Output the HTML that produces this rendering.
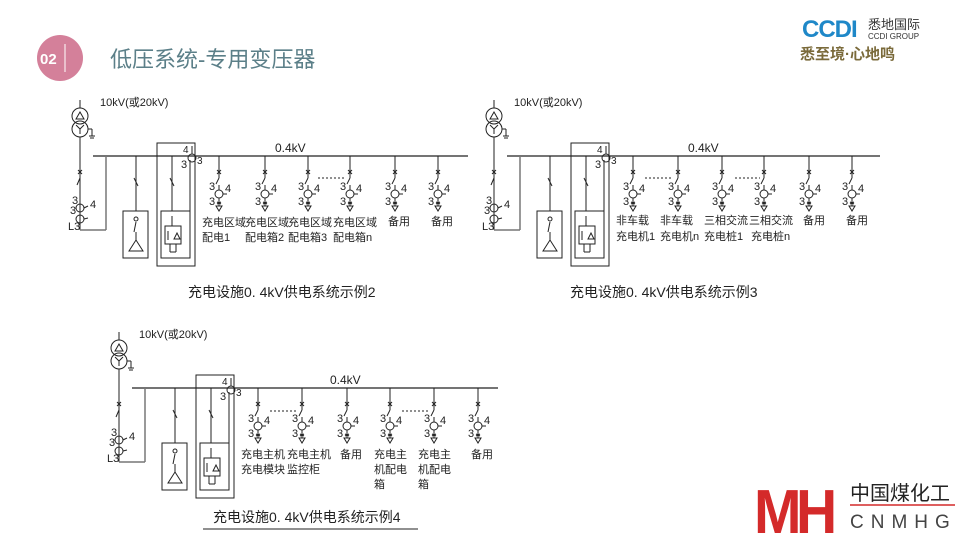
<!DOCTYPE html>
<html><head><meta charset="utf-8"><style>
html,body{margin:0;padding:0;background:#fff;}
body{width:960px;height:540px;overflow:hidden;position:relative;font-family:"Liberation Sans","Noto Sans CJK SC",sans-serif;}
svg text{font-family:"Liberation Sans","Noto Sans CJK SC",sans-serif;}
</style></head><body>
<svg width="960" height="540" viewBox="0 0 960 540" xmlns="http://www.w3.org/2000/svg">
<defs>
<g id="fd" stroke="#222" stroke-width="1" fill="none">
<line x1="0" y1="0" x2="0" y2="22"/>
<line x1="-2" y1="14" x2="2" y2="18"/><line x1="2" y1="14" x2="-2" y2="18"/>
<line x1="0" y1="22" x2="-3" y2="28"/>
<line x1="0" y1="29" x2="0" y2="34"/>
<circle cx="0" cy="38" r="4"/>
<line x1="0" y1="42" x2="0" y2="50"/>
<line x1="4" y1="38" x2="8" y2="38"/>
<line x1="-2" y1="46" x2="2" y2="48"/><line x1="2" y1="46" x2="-2" y2="48"/>
<polygon points="-3,50 3,50 0,55"/>
<text x="-10" y="34" font-size="11" fill="#222" stroke="none">3</text>
<text x="-10" y="49" font-size="11" fill="#222" stroke="none">3</text>
<text x="6" y="36" font-size="11" fill="#222" stroke="none">4</text>
</g>
<g id="lp" stroke="#222" stroke-width="1" fill="none">
<line x1="0" y1="-56" x2="0" y2="-48"/>
<circle cx="0" cy="-40" r="8"/><circle cx="0" cy="-27" r="8"/>
<polygon points="-4,-37 4,-37 0,-44"/>
<line x1="0" y1="-27" x2="0" y2="-22"/><line x1="0" y1="-27" x2="-4" y2="-31"/><line x1="0" y1="-27" x2="4" y2="-31"/>
<line x1="8" y1="-27" x2="12" y2="-27"/><line x1="12" y1="-27" x2="12" y2="-20"/><line x1="9" y1="-20" x2="15" y2="-20"/><line x1="10" y1="-18" x2="14" y2="-18"/>
<line x1="0" y1="-19" x2="0" y2="74"/>
<line x1="-2" y1="14" x2="2" y2="18"/><line x1="2" y1="14" x2="-2" y2="18"/>
<line x1="0" y1="22" x2="-3" y2="29"/>
<circle cx="0" cy="52" r="4"/><circle cx="0" cy="63" r="4"/>
<line x1="4" y1="52" x2="8" y2="50"/><line x1="4" y1="63" x2="8" y2="62"/>
<text x="-8" y="48" font-size="11" fill="#222" stroke="none">3</text>
<text x="-10" y="58" font-size="11" fill="#222" stroke="none">3</text>
<text x="10" y="52" font-size="11" fill="#222" stroke="none">4</text>
<text x="-12" y="74" font-size="11" fill="#222" stroke="none">L3</text>
<line x1="0" y1="74" x2="26" y2="74" stroke="#777" stroke-width="1.5"/>
<line x1="26" y1="74" x2="26" y2="0" stroke="#777" stroke-width="1.5"/>
<text x="20" y="-50" font-size="11" fill="#222" stroke="none">10kV(或20kV)</text>
<line x1="56" y1="0" x2="56" y2="55"/>
<line x1="54" y1="22" x2="58" y2="30"/>
<rect x="43" y="55" width="25" height="47"/>
<circle cx="56" cy="63" r="2"/><line x1="56" y1="66" x2="54" y2="76"/><line x1="56" y1="76" x2="56" y2="84"/>
<polygon points="49,95 63,95 56,84"/>
<rect x="77" y="-13" width="38" height="123"/>
<rect x="81" y="55" width="29" height="47"/>
<line x1="92" y1="0" x2="92" y2="55"/>
<line x1="90" y1="22" x2="94" y2="30"/>
<line x1="92" y1="60" x2="92" y2="70"/>
<rect x="85" y="70" width="16" height="18"/>
<polygon points="94,83 100,83 97,77"/>
<line x1="88" y1="75" x2="88" y2="84"/>
<line x1="90" y1="88" x2="90" y2="96"/><line x1="96" y1="88" x2="96" y2="96"/><line x1="90" y1="96" x2="96" y2="96"/>
<line x1="110" y1="77" x2="110" y2="4"/>
<circle cx="112" cy="2" r="4"/>
<line x1="112" y1="-2" x2="112" y2="-10"/>
<text x="103" y="-3" font-size="10" fill="#222" stroke="none">4</text>
<text x="101" y="12" font-size="11" fill="#222" stroke="none">3</text>
<text x="117" y="8" font-size="10" fill="#222" stroke="none">3</text>
</g>
</defs>

<circle cx="60" cy="58" r="23" fill="#d4809a"/>
<text x="40" y="64" font-size="15" fill="#fff" font-weight="bold">02</text>
<line x1="65" y1="44" x2="65" y2="72" stroke="#fff" stroke-width="1"/>
<text x="110" y="67" font-size="22" fill="#5b7f88">低压系统-专用变压器</text>
<text x="802" y="37" font-size="24" fill="#1f88c8" font-weight="bold" letter-spacing="-1">CCDI</text>
<text x="868" y="29" font-size="13" fill="#333">悉地国际</text>
<text x="868" y="39" font-size="8" fill="#333">CCDI GROUP</text>
<text x="800" y="59" font-size="15" fill="#7a6a3a" font-weight="bold">悉至境·心地鸣</text>
<text x="754" y="533" font-size="62" fill="#d42a2a" font-weight="bold" letter-spacing="-6" transform="translate(754,0) scale(0.92,1) translate(-754,0)">MH</text>
<text x="850" y="500" font-size="20" fill="#222">中国煤化工</text>
<line x1="850" y1="505" x2="955" y2="505" stroke="#d42a2a" stroke-width="1.5"/>
<text x="850" y="528" font-size="19" fill="#444" letter-spacing="7">CNMHG</text>

<line x1="93" y1="156" x2="468" y2="156" stroke="#222" stroke-width="1.2"/>
<text x="275" y="152" font-size="12" fill="#222">0.4kV</text>
<use href="#lp" x="80" y="156"/>
<use href="#fd" x="219" y="156"/><use href="#fd" x="265" y="156"/><use href="#fd" x="308" y="156"/>
<use href="#fd" x="350" y="156"/><use href="#fd" x="395" y="156"/><use href="#fd" x="438" y="156"/>
<line x1="318" y1="178" x2="345" y2="178" stroke="#222" stroke-dasharray="2,2"/>
<g font-size="11" fill="#222">
<text x="202" y="226">充电区域</text><text x="202" y="241">配电1</text>
<text x="245" y="226">充电区域</text><text x="245" y="241">配电箱2</text>
<text x="288" y="226">充电区域</text><text x="288" y="241">配电箱3</text>
<text x="333" y="226">充电区域</text><text x="333" y="241">配电箱n</text>
<text x="388" y="225">备用</text><text x="431" y="225">备用</text>
</g>
<text x="188" y="297" font-size="14" fill="#222">充电设施0. 4kV供电系统示例2</text>

<line x1="507" y1="156" x2="880" y2="156" stroke="#222" stroke-width="1.2"/>
<text x="688" y="152" font-size="12" fill="#222">0.4kV</text>
<use href="#lp" x="494" y="156"/>
<use href="#fd" x="633" y="156"/><use href="#fd" x="678" y="156"/><use href="#fd" x="722" y="156"/>
<use href="#fd" x="764" y="156"/><use href="#fd" x="809" y="156"/><use href="#fd" x="852" y="156"/>
<line x1="645" y1="178" x2="673" y2="178" stroke="#222" stroke-dasharray="2,2"/>
<line x1="735" y1="178" x2="760" y2="178" stroke="#222" stroke-dasharray="2,2"/>
<g font-size="11" fill="#222">
<text x="616" y="224">非车载</text><text x="616" y="240">充电机1</text>
<text x="660" y="224">非车载</text><text x="660" y="240">充电机n</text>
<text x="704" y="224">三相交流</text><text x="704" y="240">充电桩1</text>
<text x="749" y="224">三相交流</text><text x="751" y="240">充电桩n</text>
<text x="803" y="224">备用</text><text x="846" y="224">备用</text>
</g>
<text x="570" y="297" font-size="14" fill="#222">充电设施0. 4kV供电系统示例3</text>

<line x1="132" y1="388" x2="498" y2="388" stroke="#222" stroke-width="1.2"/>
<text x="330" y="384" font-size="12" fill="#222">0.4kV</text>
<use href="#lp" x="119" y="388"/>
<use href="#fd" x="258" y="388"/><use href="#fd" x="302" y="388"/><use href="#fd" x="347" y="388"/>
<use href="#fd" x="390" y="388"/><use href="#fd" x="434" y="388"/><use href="#fd" x="478" y="388"/>
<line x1="270" y1="411" x2="298" y2="411" stroke="#222" stroke-dasharray="2,2"/>
<line x1="402" y1="411" x2="430" y2="411" stroke="#222" stroke-dasharray="2,2"/>
<g font-size="11" fill="#222">
<text x="241" y="458">充电主机</text><text x="241" y="473">充电模块</text>
<text x="287" y="458">充电主机</text><text x="287" y="473">监控柜</text>
<text x="340" y="458">备用</text>
<text x="374" y="458">充电主</text><text x="374" y="473">机配电</text><text x="374" y="488">箱</text>
<text x="418" y="458">充电主</text><text x="418" y="473">机配电</text><text x="418" y="488">箱</text>
<text x="471" y="458">备用</text>
</g>
<text x="213" y="522" font-size="14" fill="#222">充电设施0. 4kV供电系统示例4</text>
<line x1="203" y1="529" x2="418" y2="529" stroke="#222" stroke-width="1"/>
</svg>
</body></html>
